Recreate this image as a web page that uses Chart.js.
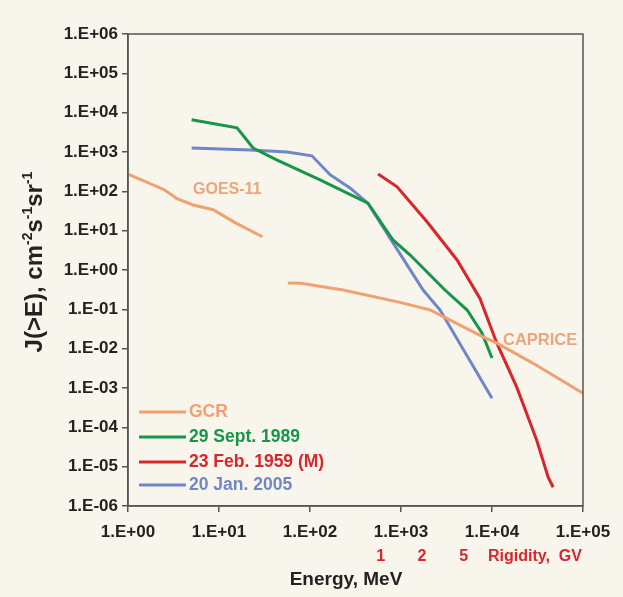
<!DOCTYPE html>
<html>
<head>
<meta charset="utf-8">
<script src="https://cdn.jsdelivr.net/npm/chart.js@4.4.1/dist/chart.umd.min.js"></script>
<style>
  html, body { margin:0; padding:0; background:#f8f5ec; }
  #wrap { width:623px; height:597px; }
</style>
</head>
<body>
<div id="wrap"><canvas id="c" width="623" height="597"></canvas></div>
<script>
// tick positions (decades)
const xTickVals = [1, 10, 100, 1e3, 1e4, 1e5];
const yTickVals = [1e-6, 1e-5, 1e-4, 1e-3, 1e-2, 1e-1, 1, 10, 100, 1e3, 1e4, 1e5, 1e6];

// GOES-11 / GCR low-energy part
const goesE = [1, 2.5, 3.5, 5.2, 8.6, 15, 30];
const goesJ = [275, 110, 64, 45, 34, 16, 7];

// GCR (CAPRICE)
const gcrE = [57, 80, 230, 975, 2090, 7960, 11300, 28000, 1e5];
const gcrJ = [0.47, 0.46, 0.31, 0.15, 0.096, 0.020, 0.0138, 0.0043, 0.00074];

// 29 Sept. 1989
const sep89E = [5, 15.8, 23.7, 43, 129, 433, 817, 1260, 3040, 5330, 7750, 10000];
const sep89J = [6600, 4100, 1260, 630, 195, 50, 5.8, 2.4, 0.31, 0.096, 0.025, 0.0058];

// 23 Feb. 1959 (M)
const feb56E = [560, 905, 1940, 4130, 7370, 11300, 18700, 31000, 41400, 47000];
const feb56J = [275, 130, 16.6, 1.8, 0.19, 0.0138, 0.00105, 4.7e-5, 5.4e-6, 3.0e-6];

// 20 Jan. 2005
const jan05E = [5, 22, 56, 105, 166, 275, 433, 817, 1750, 2690, 10000];
const jan05J = [1260, 1130, 1000, 800, 265, 122, 50, 4.9, 0.31, 0.096, 0.00055];

// rigidity labels under the energy axis
const rigidityGV = ['1', '2', '5'];
const rigidityAtMeV = [600, 1700, 4900];

const cOrange = '#f0a171';
const cGreen = '#15964a';
const cRed = '#d8262b';
const cBlue = '#6f87c6';

function pts(xs, ys) { return xs.map((x, i) => ({x: x, y: ys[i]})); }
function fmtExp(v) {
  const e = Math.round(Math.log10(v));
  const a = Math.abs(e);
  return '1.E' + (e < 0 ? '-' : '+') + (a < 10 ? '0' : '') + a;
}
function line(label, xs, ys, color) {
  return { label, data: pts(xs, ys), borderColor: color, borderWidth: 3,
           pointRadius: 0, showLine: true, fill: false, tension: 0 };
}

const FONT = '"Liberation Sans", Arial, sans-serif';

const overlay = {
  id: 'overlay',
  beforeDraw(chart) {
    const ctx = chart.ctx;
    ctx.save();
    ctx.fillStyle = '#f8f5ec';
    ctx.fillRect(0, 0, chart.width, chart.height);
    ctx.restore();
  },
  afterDraw(chart) {
    const ctx = chart.ctx, a = chart.chartArea;
    const xs = chart.scales.x;
    ctx.save();
    // frame
    ctx.strokeStyle = '#555';
    ctx.lineWidth = 1.5;
    ctx.strokeRect(a.left, a.top, a.right - a.left, a.bottom - a.top);

    // in-plot labels
    ctx.font = 'bold 16px ' + FONT;
    ctx.textBaseline = 'middle';
    ctx.textAlign = 'left';
    ctx.fillStyle = '#eda57c';
    ctx.fillText('GOES-11', 193, 190);
    ctx.font = 'bold 16.5px ' + FONT;
    ctx.fillText('CAPRICE', 503, 340);

    // legend
    const leg = [['GCR', cOrange, 412], ['29 Sept. 1989', cGreen, 437],
                 ['23 Feb. 1959 (M)', cRed, 462], ['20 Jan. 2005', cBlue, 485]];
    ctx.font = 'bold 17.5px ' + FONT;
    leg.forEach(l => {
      ctx.strokeStyle = l[1];
      ctx.lineWidth = 3;
      ctx.beginPath();
      ctx.moveTo(139, l[2]);
      ctx.lineTo(186, l[2]);
      ctx.stroke();
      ctx.fillStyle = l[1];
      ctx.fillText(l[0], 189, l[2]);
    });

    // rigidity labels
    ctx.font = 'bold 16px ' + FONT;
    ctx.fillStyle = cRed;
    ctx.textAlign = 'center';
    rigidityAtMeV.forEach((e, i) => ctx.fillText(rigidityGV[i], xs.getPixelForValue(e), 557));
    ctx.textAlign = 'left';
    ctx.fillText('Rigidity,  GV', 488, 557);

    // x title
    ctx.fillStyle = '#222';
    ctx.font = 'bold 19px ' + FONT;
    ctx.textAlign = 'center';
    ctx.fillText('Energy, MeV', 346, 580);

    // y title with superscripts
    ctx.translate(33, 262);
    ctx.rotate(-Math.PI / 2);
    const parts = [['J(>E), cm', 0], ['-2', 1], ['s', 0], ['-1', 1], ['sr', 0], ['-1', 1]];
    const big = 'bold 24px ' + FONT, small = 'bold 14px ' + FONT;
    let w = 0;
    parts.forEach(p => { ctx.font = p[1] ? small : big; w += ctx.measureText(p[0]).width; });
    let x = -w / 2;
    ctx.textAlign = 'left';
    ctx.textBaseline = 'alphabetic';
    parts.forEach(p => {
      ctx.font = p[1] ? small : big;
      ctx.fillText(p[0], x, p[1] ? -1 : 9);
      x += ctx.measureText(p[0]).width;
    });
    ctx.restore();
  }
};

new Chart(document.getElementById('c'), {
  type: 'scatter',
  data: {
    datasets: [
      line('GOES-11', goesE, goesJ, cOrange),
      line('GCR', gcrE, gcrJ, cOrange),
      line('29 Sept. 1989', sep89E, sep89J, cGreen),
      line('23 Feb. 1959 (M)', feb56E, feb56J, cRed),
      line('20 Jan. 2005', jan05E, jan05J, cBlue)
    ]
  },
  options: {
    responsive: false,
    animation: false,
    layout: { padding: { top: 34, right: 40, left: 0, bottom: 0 } },
    plugins: { legend: { display: false }, tooltip: { enabled: false } },
    scales: {
      x: {
        type: 'logarithmic', min: 1, max: 1e5,
        afterBuildTicks: s => { s.ticks = xTickVals.map(v => ({value: v})); },
        afterFit: s => { s.height = 91; },
        grid: { drawOnChartArea: false, drawTicks: true, tickLength: 6, color: '#555', lineWidth: 1.5 },
        border: { display: true, color: '#555', width: 1.5 },
        ticks: { callback: v => fmtExp(v), color: '#222', padding: 10,
                 font: { family: FONT, weight: 'bold', size: 17 }, maxRotation: 0, autoSkip: false }
      },
      y: {
        type: 'logarithmic', min: 1e-6, max: 1e6,
        afterBuildTicks: s => { s.ticks = yTickVals.map(v => ({value: v})); },
        afterFit: s => { s.width = 128; },
        grid: { drawOnChartArea: false, drawTicks: true, tickLength: 6, color: '#555', lineWidth: 1.5 },
        border: { display: true, color: '#555', width: 1.5 },
        ticks: { callback: v => fmtExp(v), color: '#222', padding: 4,
                 font: { family: FONT, weight: 'bold', size: 17 }, autoSkip: false }
      }
    }
  },
  plugins: [overlay]
});
</script>
</body>
</html>
